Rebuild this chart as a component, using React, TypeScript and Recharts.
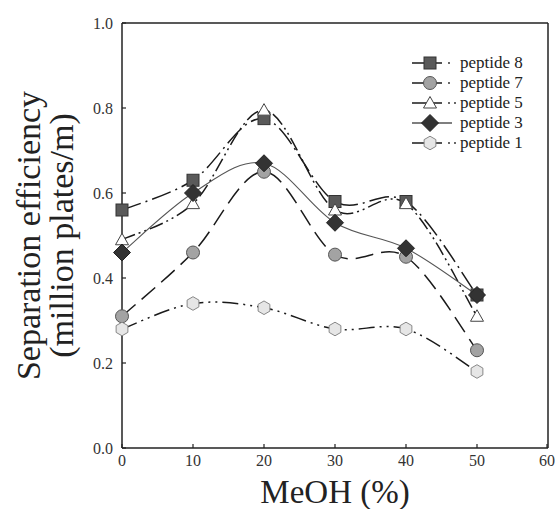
import { LineChart, Line, XAxis, YAxis, ReferenceLine } from 'recharts';

const meohValues = [0, 10, 20, 30, 40, 50];
const peptide8 = [0.56, 0.63, 0.775, 0.58, 0.58, 0.36];
const peptide7 = [0.31, 0.46, 0.65, 0.455, 0.45, 0.23];
const peptide5 = [0.49, 0.575, 0.795, 0.56, 0.575, 0.31];
const peptide3 = [0.46, 0.6, 0.67, 0.53, 0.47, 0.36];
const peptide1 = [0.28, 0.34, 0.33, 0.28, 0.28, 0.18];
const xTicks = [0, 10, 20, 30, 40, 50, 60];
const yTicks = [0, 0.2, 0.4, 0.6, 0.8, 1.0];

const FONT = '"Liberation Serif", "Times New Roman", Times, serif';
const INK = '#222';

type Shape = 'square' | 'circle' | 'triangle' | 'diamond' | 'hexagon';

const series = [
  { key: 'p8', name: 'peptide 8', shape: 'square' as Shape, fill: '#5a5a5a', stroke: '#333', dash: '20 5 2 5', width: 1.5, color: '#1a1a1a', dots: 1 },
  { key: 'p7', name: 'peptide 7', shape: 'circle' as Shape, fill: '#a3a3a3', stroke: '#555', dash: '18 8', width: 1.5, color: '#1a1a1a', dots: 1 },
  { key: 'p5', name: 'peptide 5', shape: 'triangle' as Shape, fill: '#fff', stroke: '#444', dash: '14 4 2 4 2 4', width: 1.5, color: '#1a1a1a', dots: 2 },
  { key: 'p3', name: 'peptide 3', shape: 'diamond' as Shape, fill: '#333', stroke: '#222', dash: undefined, width: 1.1, color: '#555', dots: 0 },
  { key: 'p1', name: 'peptide 1', shape: 'hexagon' as Shape, fill: '#e6e6e6', stroke: '#888', dash: '16 5 2 5 2 5', width: 1.5, color: '#1a1a1a', dots: 2 },
];

const data = meohValues.map((m, i) => ({
  meoh: m,
  p8: peptide8[i],
  p7: peptide7[i],
  p5: peptide5[i],
  p3: peptide3[i],
  p1: peptide1[i],
}));

// Catmull-Rom style smoothing, closer to the original plotting program than "natural"
const catmullRom = (context: any) => {
  let pts: number[][] = [];
  return {
    areaStart() {},
    areaEnd() {},
    lineStart() {
      pts = [];
    },
    point(x: number, y: number) {
      pts.push([+x, +y]);
    },
    lineEnd() {
      if (!pts.length) return;
      context.moveTo(pts[0][0], pts[0][1]);
      for (let i = 0; i < pts.length - 1; i++) {
        const p0 = pts[i - 1] || pts[i];
        const p1 = pts[i];
        const p2 = pts[i + 1];
        const p3 = pts[i + 2] || p2;
        context.bezierCurveTo(
          p1[0] + (p2[0] - p0[0]) / 6,
          p1[1] + (p2[1] - p0[1]) / 6,
          p2[0] - (p3[0] - p1[0]) / 6,
          p2[1] - (p3[1] - p1[1]) / 6,
          p2[0],
          p2[1],
        );
      }
    },
  };
};

function marker(shape: Shape, cx: number, cy: number, fill: string, stroke: string, key?: string | number) {
  switch (shape) {
    case 'square':
      return <rect key={key} x={cx - 6} y={cy - 6} width={12} height={12} fill={fill} stroke={stroke} strokeWidth={1} />;
    case 'circle':
      return <circle key={key} cx={cx} cy={cy} r={6.5} fill={fill} stroke={stroke} strokeWidth={1} />;
    case 'triangle':
      return (
        <polygon key={key} points={`${cx},${cy - 6.5} ${cx + 6.5},${cy + 5} ${cx - 6.5},${cy + 5}`} fill={fill} stroke={stroke} strokeWidth={1} />
      );
    case 'diamond':
      return (
        <polygon key={key} points={`${cx},${cy - 8.5} ${cx + 8.5},${cy} ${cx},${cy + 8.5} ${cx - 8.5},${cy}`} fill={fill} stroke={stroke} strokeWidth={1} />
      );
    case 'hexagon': {
      const r = 6.8;
      const pts = [0, 1, 2, 3, 4, 5]
        .map((k) => {
          const a = (Math.PI / 3) * k - Math.PI / 2;
          return `${cx + r * Math.cos(a)},${cy + r * Math.sin(a)}`;
        })
        .join(' ');
      return <polygon key={key} points={pts} fill={fill} stroke={stroke} strokeWidth={1} />;
    }
  }
}

const YTick = (props: any) => {
  const { x, y, payload } = props;
  return (
    <g>
      <line x1={x} x2={x + 4} y1={y} y2={y} stroke={INK} strokeWidth={1.2} />
      <text x={x - 9} y={y} dy="0.35em" textAnchor="end" style={{ fontFamily: FONT, fontSize: 16 }} fill="#333">
        {Number(payload.value).toFixed(1)}
      </text>
    </g>
  );
};

const XTick = (props: any) => {
  const { x, y, payload } = props;
  return (
    <g>
      <line x1={x} x2={x} y1={y} y2={y - 4} stroke={INK} strokeWidth={1.2} />
      <text x={x} y={y + 18} textAnchor="middle" style={{ fontFamily: FONT, fontSize: 16 }} fill="#333">
        {payload.value}
      </text>
    </g>
  );
};

const YLabel = (props: any) => {
  const vb = props.viewBox || { y: 23, height: 425 };
  const cy = vb.y + vb.height / 2;
  return (
    <g style={{ fontFamily: FONT, fontSize: 34 }} fill={INK}>
      <text x={40} y={cy} textAnchor="middle" transform={`rotate(-90, 40, ${cy})`}>
        Separation efficiency
      </text>
      <text x={73} y={cy} textAnchor="middle" transform={`rotate(-90, 73, ${cy})`}>
        (million plates/m)
      </text>
    </g>
  );
};

const XLabel = () => (
  <text x={335} y={503} textAnchor="middle" style={{ fontFamily: FONT, fontSize: 33 }} fill={INK}>
    MeOH (%)
  </text>
);

function LegendBox() {
  return (
    <div style={{ position: 'absolute', left: 408, top: 53, fontFamily: FONT, fontSize: 17, color: INK }}>
      {series.map((s) => (
        <div key={s.key} style={{ display: 'flex', alignItems: 'center', height: 20 }}>
          <svg width={52} height={20}>
            <line x1={4} x2={s.dots === 0 ? 44 : 34} y1={10} y2={10} stroke={s.color} strokeWidth={1.5} />
            {Array.from({ length: s.dots }).map((_, k) => (
              <circle key={k} cx={41 + k * 6} cy={10} r={0.9} fill={INK} />
            ))}
            {marker(s.shape, 22, 10, s.fill, s.stroke)}
          </svg>
          <span style={{ lineHeight: '20px' }}>{s.name}</span>
        </div>
      ))}
    </div>
  );
}

export default function App() {
  return (
    <div style={{ position: 'absolute', left: 0, top: 0, width: 555, height: 509, background: '#fff' }}>
      <LineChart width={555} height={509} data={data} margin={{ top: 23, right: 7, bottom: 0, left: 0 }}>
        <XAxis
          dataKey="meoh"
          type="number"
          domain={[0, 60]}
          ticks={xTicks}
          height={61}
          tickSize={0}
          tickMargin={0}
          tickLine={false}
          tick={<XTick />}
          axisLine={{ stroke: INK, strokeWidth: 1.5 }}
          label={<XLabel />}
        />
        <YAxis
          type="number"
          domain={[0, 1]}
          ticks={yTicks}
          width={122}
          tickSize={0}
          tickMargin={0}
          tickLine={false}
          tick={<YTick />}
          axisLine={{ stroke: INK, strokeWidth: 1.5 }}
          label={<YLabel />}
        />
        <ReferenceLine y={1} stroke={INK} strokeWidth={1.5} ifOverflow="visible" />
        <ReferenceLine x={60} stroke={INK} strokeWidth={1.5} ifOverflow="visible" />
        {series.map((s) => (
          <Line
            key={s.key}
            dataKey={s.key}
            name={s.name}
            type={catmullRom as any}
            stroke={s.color}
            strokeWidth={s.width}
            strokeDasharray={s.dash}
            isAnimationActive={false}
            dot={(p: any) => marker(s.shape, p.cx, p.cy, s.fill, s.stroke, `${s.key}-${p.index}`)}
            activeDot={false}
          />
        ))}
      </LineChart>
      <LegendBox />
    </div>
  );
}
